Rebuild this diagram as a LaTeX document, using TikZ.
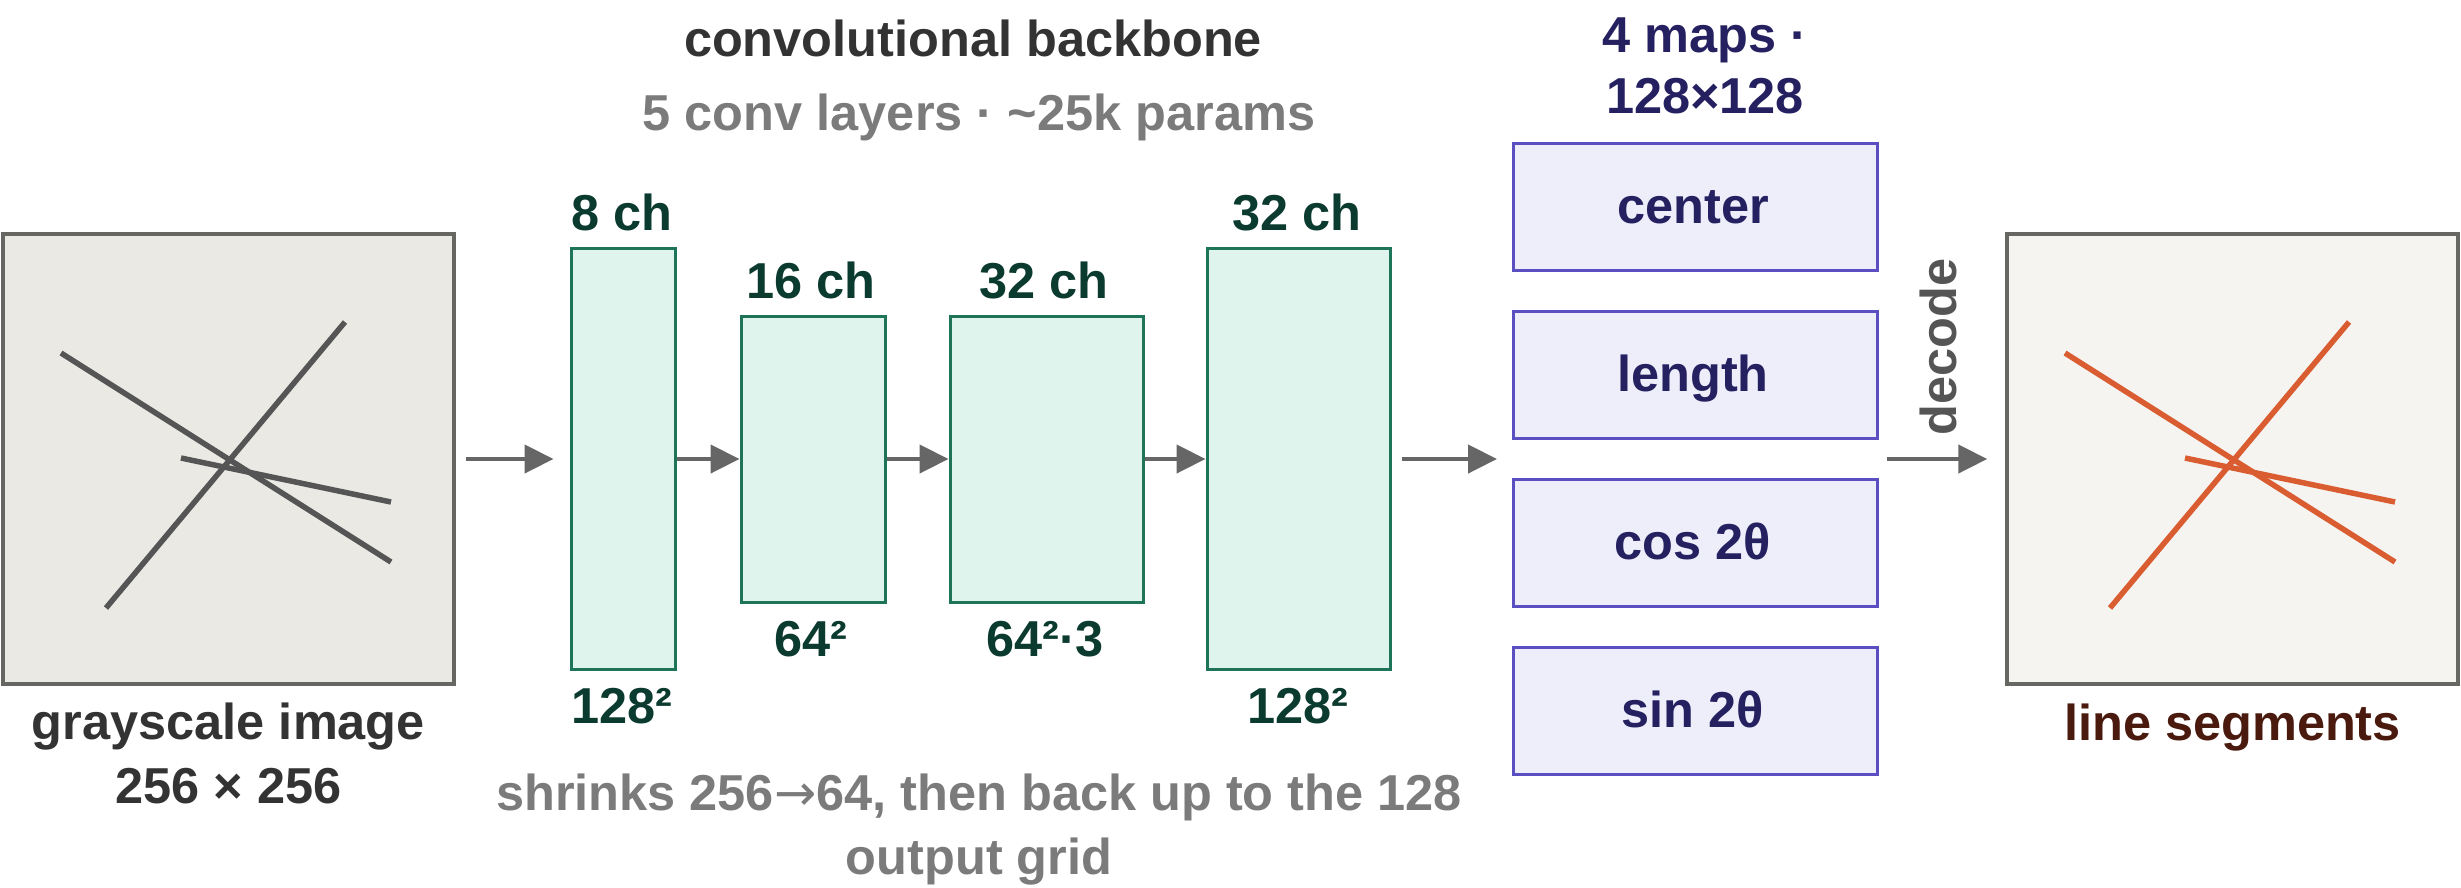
\documentclass[tikz,border=0pt]{standalone}
\usepackage{fontspec}
\setmainfont{Liberation Sans}
\newfontfamily\arrowfont{DejaVu Sans}
\usetikzlibrary{arrows.meta}
\definecolor{ttl}{HTML}{333333}
\definecolor{sub}{HTML}{7B7B7B}
\definecolor{imgfillL}{HTML}{EAE9E4}
\definecolor{imgfillR}{HTML}{F5F4F1}
\definecolor{imgdraw}{HTML}{666663}
\definecolor{glines}{HTML}{555555}
\definecolor{rlines}{HTML}{D95D30}
\definecolor{convfill}{HTML}{E0F4EE}
\definecolor{convdraw}{HTML}{1D7459}
\definecolor{convtxt}{HTML}{0B3A2E}
\definecolor{mapfill}{HTML}{EEEEFB}
\definecolor{mapdraw}{HTML}{5B4EC0}
\definecolor{maptxt}{HTML}{252060}
\definecolor{arrowc}{HTML}{666666}
\definecolor{segtxt}{HTML}{4A1A0E}
\definecolor{dectxt}{HTML}{555555}
\begin{document}
\begin{tikzpicture}[x=1pt,y=-1pt,
  font=\fontsize{50.5}{64}\selectfont\bfseries,
  lbl/.style={inner sep=0pt, anchor=base},
  imgbox/.style={draw=imgdraw, line width=3.5pt, minimum width=451pt, minimum height=450pt, inner sep=0pt},
  convbox/.style={draw=convdraw, fill=convfill, line width=3pt, inner sep=0pt},
  mapbox/.style={draw=mapdraw, fill=mapfill, line width=3pt, inner sep=0pt, minimum width=364pt, minimum height=127pt},
  flow/.style={draw=arrowc, line width=4.5pt, -{Triangle[length=29pt,width=28pt]}},
  seg/.style={line width=5.5pt}
]
\useasboundingbox (0,0) rectangle (2461,887);

% titles
\node[lbl, text=ttl] (title) at (973,56) {convolutional backbone};
\node[lbl, text=sub] (subt) at (979,130) {5 conv layers · \textasciitilde25k params};

% input image
\node[imgbox, fill=imgfillL] (img) at (228.5,459) {};
\draw[seg, draw=glines] (61,353) -- (391,562);
\draw[seg, draw=glines] (106,608) -- (345,322);
\draw[seg, draw=glines] (181,458) -- (391,502);
\node[lbl, text=ttl] (gray1) at (228.5,739) {grayscale image};
\node[lbl, text=ttl] (gray2) at (228.5,803) {256 × 256};

% conv boxes
\node[convbox, minimum width=104pt, minimum height=421pt] (conv1) at (623,459) {};
\node[convbox, minimum width=144pt, minimum height=286pt] (conv2) at (813,459) {};
\node[convbox, minimum width=193pt, minimum height=286pt] (conv3) at (1046.5,459) {};
\node[convbox, minimum width=183pt, minimum height=421pt] (conv4) at (1298.5,459) {};

\node[lbl, text=convtxt] (c1top) at (622,230) {8 ch};
\node[lbl, text=convtxt] (c2top) at (811,298) {16 ch};
\node[lbl, text=convtxt] (c3top) at (1044,298) {32 ch};
\node[lbl, text=convtxt] (c4top) at (1297,230) {32 ch};
\node[lbl, text=convtxt] (c1bot) at (622,723) {128²};
\node[lbl, text=convtxt] (c2bot) at (811,656) {64²};
\node[lbl, text=convtxt] (c3bot) at (1045,656) {64²·3};
\node[lbl, text=convtxt] (c4bot) at (1298,723) {128²};

\node[lbl, text=sub] (shr1) at (979,810) {shrinks 256{\arrowfont\mdseries →}64, then back up to the 128};
\node[lbl, text=sub] (shr2) at (979,874) {output grid};

% maps
\node[lbl, text=maptxt] (maps1) at (1705,52) {4 maps ·};
\node[lbl, text=maptxt] (maps2) at (1705,113) {128×128};
\node[mapbox] (mcenter) at (1695,206.5) {};
\node[mapbox] (mlength) at (1695,374.5) {};
\node[mapbox] (mcos) at (1695,542.5) {};
\node[mapbox] (msin) at (1695,710.5) {};
\node[lbl, text=maptxt] (tcenter) at (1693,223) {center};
\node[lbl, text=maptxt] (tlength) at (1693,391) {length};
\node[lbl, text=maptxt] (tcos) at (1693,559) {cos 2θ};
\node[lbl, text=maptxt] (tsin) at (1693,727) {sin 2θ};

% output image
\node[imgbox, fill=imgfillR] (out) at (2232.5,459) {};
\draw[seg, draw=rlines] (2065,353) -- (2395,562);
\draw[seg, draw=rlines] (2110,608) -- (2349,322);
\draw[seg, draw=rlines] (2185,458) -- (2395,502);
\node[lbl, text=segtxt] (segl) at (2232.5,740) {line segments};

% arrows
\coordinate (mapsL) at (1497,459);
\coordinate (mapsR) at (1887,459);
\draw[flow] ([xshift=10pt]img.east) -- ([xshift=-16pt]conv1.west);
\draw[flow] (conv1.east) -- (conv2.west);
\draw[flow] (conv2.east) -- (conv3.west);
\draw[flow] (conv3.east) -- (conv4.west);
\draw[flow] ([xshift=10pt]conv4.east) -- (mapsL);
\draw[flow] (mapsR) -- ([xshift=-18pt]out.west);
\node[lbl, text=dectxt, rotate=90] (dec) at (1956,347) {decode};
\end{tikzpicture}
\end{document}
